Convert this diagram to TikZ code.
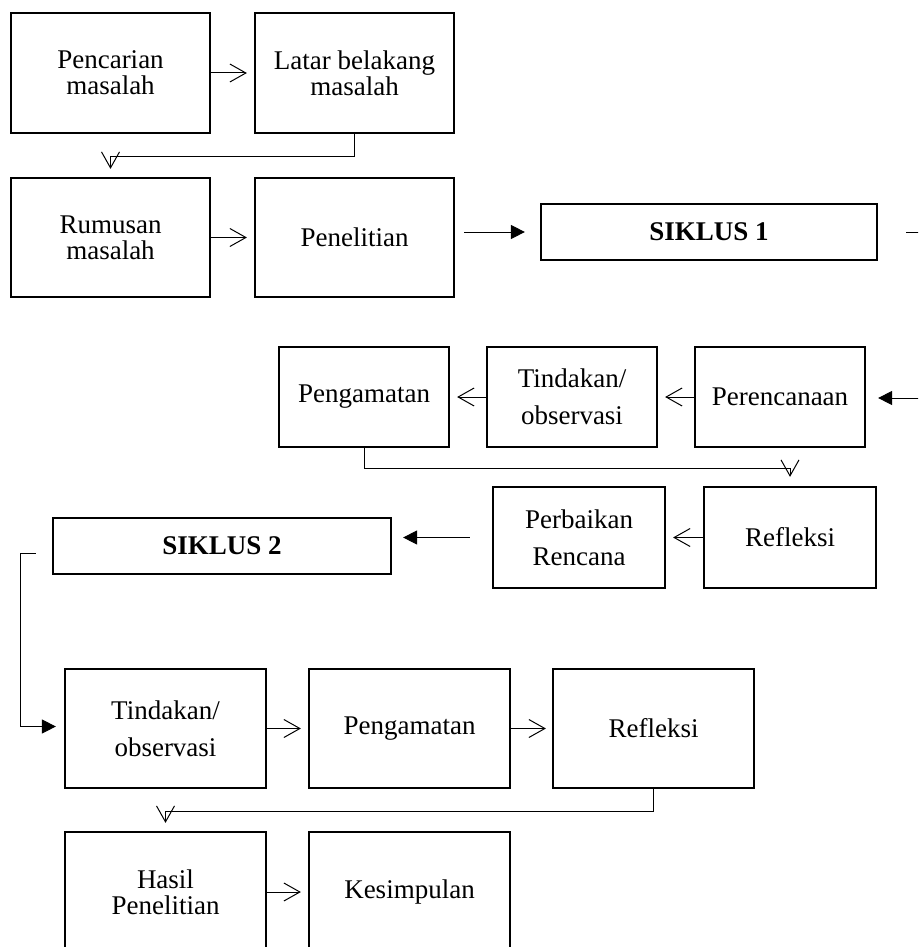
\documentclass[tikz,border=0pt]{standalone}
\usepackage{fontspec}
\setmainfont{Liberation Serif}
\usetikzlibrary{arrows.meta}
\begin{document}
\begin{tikzpicture}[x=1pt,y=-1pt,
  box/.style={draw,line width=2.2pt,inner sep=0pt,align=center,
    font=\fontsize{27}{26}\selectfont},
  wide/.style={font=\fontsize{27}{37}\selectfont},
  bold/.style={font=\fontsize{27}{26}\selectfont\bfseries},
  conn/.style={line width=1pt},
  openarr/.style={conn,-{Straight Barb[length=16pt,width=18pt]}},
  fillarr/.style={conn,-{Triangle[length=14pt,width=14pt]}}]
\useasboundingbox (0,0) rectangle (918,947);
\clip (0,0) rectangle (918,947);
% row 1-2
\node[box,minimum width=199pt,minimum height=120pt] (pc) at (110.5,73) {Pencarian\\masalah};
\node[box,minimum width=199pt,minimum height=120pt] (lb) at (354.5,73) {Latar belakang\\masalah};
\node[box,minimum width=199pt,minimum height=119pt] (rm) at (110.5,237.5) {Rumusan\\masalah};
\node[box,minimum width=199pt,minimum height=119pt] (pn) at (354.5,237.5) {Penelitian};
\node[box,bold,minimum width=336pt,minimum height=56pt] (s1) at (709,232) {SIKLUS 1};
% middle
\node[box,minimum width=170pt,minimum height=100pt] (pm) at (364,397) {Pengamatan};
\node[box,wide,minimum width=170pt,minimum height=100pt] (td) at (572,397) {Tindakan/\\observasi};
\node[box,minimum width=170pt,minimum height=100pt] (pr) at (780,397) {Perencanaan};
\node[box,wide,minimum width=172pt,minimum height=101pt] (pb) at (579,537.5) {Perbaikan\\Rencana};
\node[box,minimum width=172pt,minimum height=101pt] (rf) at (790,537.5) {Refleksi};
\node[box,bold,minimum width=338pt,minimum height=56pt] (s2) at (222,546) {SIKLUS 2};
% bottom
\node[box,wide,minimum width=201pt,minimum height=119pt] (t2) at (165.5,728.5) {Tindakan/\\observasi};
\node[box,minimum width=201pt,minimum height=119pt] (p2) at (409.5,728.5) {Pengamatan};
\node[box,minimum width=201pt,minimum height=119pt] (r2) at (653.5,728.5) {Refleksi};
\node[box,minimum width=201pt,minimum height=120pt] (hs) at (165.5,892) {Hasil\\Penelitian};
\node[box,minimum width=201pt,minimum height=120pt] (ks) at (409.5,892) {Kesimpulan};
% free ends
\coordinate (rtop) at (930,232);
\coordinate (rmid) at (930,398);
% connectors
\draw[openarr,shorten >=7pt] (pc) -- (lb);
\draw[openarr,shorten >=8pt] (lb.south) -- ++(0,22) -| (rm.north);
\draw[openarr,shorten >=7pt] (rm) -- (pn);
\draw[fillarr,shorten <=9pt,shorten >=15pt] (pn.east |- s1.west) -- (s1.west);
\draw[conn,shorten <=28pt] (s1.east) -- (rtop);
\draw[fillarr,shorten >=12pt] (rmid) -- (pr.east |- rmid);
\draw[openarr,shorten >=7pt] (pr) -- (td);
\draw[openarr,shorten >=7pt] (td) -- (pm);
\draw[openarr,shorten >=9pt] (pm.south) -- ++(0,20) -| (rf.north);
\draw[openarr,shorten >=7pt] (rf) -- (pb);
\draw[fillarr,shorten <=22pt,shorten >=11pt] (pb.west) -- (pb.west -| s2.east);
\draw[fillarr,shorten <=16pt,shorten >=8pt] ([yshift=-7pt]s2.west) -- ++(-31,0) |- ([yshift=2pt]t2.west);
\draw[openarr,shorten >=7pt] (t2) -- (p2);
\draw[openarr,shorten >=6pt] (p2) -- (r2);
\draw[openarr,shorten >=8pt] (r2.south) -- ++(0,22) -| (hs.north);
\draw[openarr,shorten >=7pt] (hs) -- (ks);
\end{tikzpicture}
\end{document}
